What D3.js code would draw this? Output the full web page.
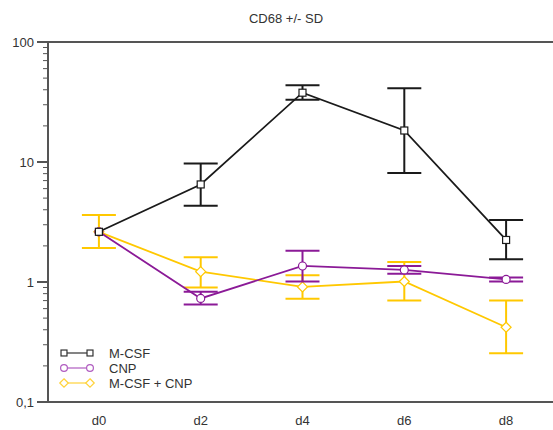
<!DOCTYPE html>
<html>
<head>
<meta charset="utf-8">
<script src="https://cdn.jsdelivr.net/npm/d3@7"></script>
<style>
  body { margin: 0; background: #fff; }
  text { font-family: "Liberation Sans", Arial, sans-serif; fill: #333; }
</style>
</head>
<body>
<div id="container"></div>
<script>
var days = ["d0", "d2", "d4", "d6", "d8"];
var seriesNames = ["M-CSF", "CNP", "M-CSF + CNP"];
var seriesColors = ["#1a1a1a", "#8b1a97", "#ffc800"];
var legendColors = ["#333333", "#b05cc0", "#ffd23a"];
var seriesShapes = ["square", "circle", "diamond"];

// means and SD bounds (low/high)
var mcsfMean = [2.62, 6.5, 37.8, 18.3, 2.24];
var mcsfLow  = [null, 4.32, 33.0, 8.1, 1.55];
var mcsfHigh = [null, 9.7, 43.7, 41.2, 3.29];

var cnpMean = [2.62, 0.73, 1.36, 1.26, 1.05];
var cnpLow  = [null, 0.65, 1.01, 1.17, 1.01];
var cnpHigh = [null, 0.83, 1.82, 1.36, 1.09];

var comboMean = [2.62, 1.22, 0.91, 1.01, 0.42];
var comboLow  = [1.92, 0.90, 0.726, 0.70, 0.255];
var comboHigh = [3.62, 1.61, 1.14, 1.47, 0.70];

var yTickValues = [0.1, 1, 10, 100];
var yTickLabels = ["0,1", "1", "10", "100"];

var width = 553, height = 430;
var margin = {top: 42, left: 48, bottom: 28};

var svg = d3.select("#container").append("svg")
  .attr("width", width)
  .attr("height", height);

var x = d3.scalePoint().domain(days).range([48, 557]).padding(0.5);
var y = d3.scaleLog().domain([0.1, 100]).range([height - margin.bottom, margin.top]);

// title
svg.append("text")
  .attr("x", 286).attr("y", 23)
  .attr("text-anchor", "middle")
  .style("font-size", "13px")
  .text("CD68 +/- SD");

// frame: top and bottom lines
svg.append("line")
  .attr("x1", margin.left).attr("x2", width)
  .attr("y1", y(100)).attr("y2", y(100))
  .attr("stroke", "#555").attr("stroke-width", 2);
svg.append("line")
  .attr("x1", margin.left).attr("x2", width)
  .attr("y1", y(0.1)).attr("y2", y(0.1))
  .attr("stroke", "#555").attr("stroke-width", 2);

// y axis with log minor ticks
var minor = [];
for (var e = -1; e < 2; e++) {
  for (var m = 2; m <= 9; m++) minor.push(m * Math.pow(10, e));
}
var yAxis = svg.append("g").attr("transform", "translate(" + margin.left + ",0)");
yAxis.append("line")
  .attr("x1", 0).attr("x2", 0)
  .attr("y1", y(100)).attr("y2", y(0.1))
  .attr("stroke", "#555").attr("stroke-width", 2);
yAxis.selectAll(".minor").data(minor).enter().append("line")
  .attr("x1", -5).attr("x2", 0)
  .attr("y1", d => y(d)).attr("y2", d => y(d))
  .attr("stroke", "#555").attr("stroke-width", 1);
yAxis.selectAll(".major").data(yTickValues).enter().append("line")
  .attr("x1", -11).attr("x2", 0)
  .attr("y1", d => y(d)).attr("y2", d => y(d))
  .attr("stroke", "#555").attr("stroke-width", 2);
yAxis.selectAll(".lbl").data(yTickValues).enter().append("text")
  .attr("x", -14).attr("y", d => y(d))
  .attr("dy", "0.35em")
  .attr("text-anchor", "end")
  .style("font-size", "13px")
  .text((d, i) => yTickLabels[i]);

// x labels
svg.selectAll(".xlbl").data(days).enter().append("text")
  .attr("x", d => x(d)).attr("y", 425)
  .attr("text-anchor", "middle")
  .style("font-size", "13px")
  .text(d => d);

var series = [
  {mean: mcsfMean, low: mcsfLow, high: mcsfHigh},
  {mean: cnpMean, low: cnpLow, high: cnpHigh},
  {mean: comboMean, low: comboLow, high: comboHigh}
];

function drawMarker(g, shape, cx, cy, color, sw, size) {
  var r = size || 1;
  if (shape == "square") {
    g.append("rect")
      .attr("x", cx - 3.5 * r).attr("y", cy - 3.5 * r)
      .attr("width", 7 * r).attr("height", 7 * r)
      .attr("fill", "#fff").attr("stroke", color).attr("stroke-width", sw);
  } else if (shape == "circle") {
    g.append("circle")
      .attr("cx", cx).attr("cy", cy).attr("r", 4 * r)
      .attr("fill", "#fff").attr("stroke", color).attr("stroke-width", sw);
  } else {
    var h = 5 * r;
    g.append("path")
      .attr("d", "M" + cx + "," + (cy - h) + "L" + (cx + h) + "," + cy + "L" + cx + "," + (cy + h) + "L" + (cx - h) + "," + cy + "Z")
      .attr("fill", "#fff").attr("stroke", color).attr("stroke-width", sw);
  }
}

var capHalf = 17;
// draw in reverse order so black is on top
[2, 1, 0].forEach(function(s) {
  var d = series[s], color = seriesColors[s];
  var g = svg.append("g");
  // error bars
  days.forEach(function(day, i) {
    if (d.low[i] == null) return;
    var cx = x(day);
    g.append("line")
      .attr("x1", cx).attr("x2", cx)
      .attr("y1", y(d.low[i])).attr("y2", y(d.high[i]))
      .attr("stroke", color).attr("stroke-width", 2);
    [d.low[i], d.high[i]].forEach(function(v) {
      g.append("line")
        .attr("x1", cx - capHalf).attr("x2", cx + capHalf)
        .attr("y1", y(v)).attr("y2", y(v))
        .attr("stroke", color).attr("stroke-width", 2);
    });
  });
  var line = d3.line().x((v, i) => x(days[i])).y(v => y(v));
  g.append("path")
    .attr("d", line(d.mean))
    .attr("fill", "none").attr("stroke", color).attr("stroke-width", 1.8);
  days.forEach(function(day, i) {
    drawMarker(g, seriesShapes[s], x(day), y(d.mean[i]), color, 1.2);
  });
});

// legend
var legend = svg.append("g");
seriesNames.forEach(function(name, i) {
  var ly = 353 + i * 15;
  var c = legendColors[i];
  legend.append("line")
    .attr("x1", 64).attr("x2", 90)
    .attr("y1", ly).attr("y2", ly)
    .attr("stroke", c).attr("stroke-width", 1.2);
  drawMarker(legend, seriesShapes[i], 64, ly, c, 1.2, 0.85);
  drawMarker(legend, seriesShapes[i], 90, ly, c, 1.2, 0.85);
  legend.append("text")
    .attr("x", 109).attr("y", ly)
    .attr("dy", "0.35em")
    .style("font-size", "13px")
    .text(name);
});
</script>
</body>
</html>
